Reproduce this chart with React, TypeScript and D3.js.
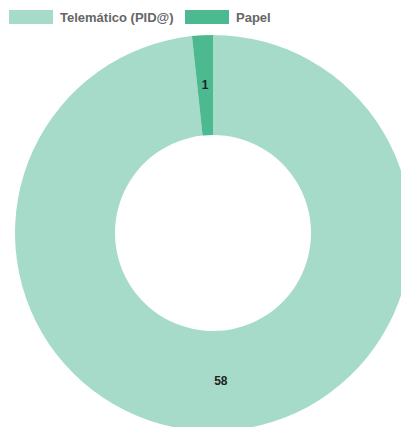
import React from "react";
import * as d3 from "d3";

const categories = ["Telemático (PID@)", "Papel"];
const values = [58, 1];
const colors = ["#a6dbc9", "#4cb990"];

const W = 401;
const H = 427;

export default function App() {
  const cx = 213;
  const cy = 233;
  const outerR = 198;
  const innerR = 98;

  const pie = d3.pie<number>().sort(null).value((d) => d);
  const arcs = pie(values);
  const arcGen = d3.arc<d3.PieArcDatum<number>>().innerRadius(innerR).outerRadius(outerR);
  const labelArc = d3
    .arc<d3.PieArcDatum<number>>()
    .innerRadius((innerR + outerR) / 2)
    .outerRadius((innerR + outerR) / 2);

  // legend layout
  const legendItems = [
    { x: 9, label: categories[0], color: colors[0] },
    { x: 185, label: categories[1], color: colors[1] },
  ];

  return (
    <svg
      width={W}
      height={H}
      style={{ position: "absolute", left: 0, top: 0, display: "block" }}
      fontFamily="'Liberation Sans', Arial, Helvetica, sans-serif"
    >
      <g transform={`translate(${cx},${cy})`}>
        {arcs.map((a, i) => (
          <path key={i} d={arcGen(a) || ""} fill={colors[i]} />
        ))}
        {arcs.map((a, i) => {
          const [lx, ly] = labelArc.centroid(a);
          return (
            <text
              key={"l" + i}
              x={lx}
              y={ly}
              textAnchor="middle"
              dominantBaseline="central"
              fontSize={12}
              fontWeight="bold"
              fill="#222"
            >
              {values[i]}
            </text>
          );
        })}
      </g>
      {legendItems.map((it, i) => (
        <g key={"lg" + i}>
          <rect x={it.x} y={10} width={44} height={14} fill={it.color} />
          <text x={it.x + 51} y={21.5} fontSize={13} fontWeight="bold" fill="#666">
            {it.label}
          </text>
        </g>
      ))}
    </svg>
  );
}
